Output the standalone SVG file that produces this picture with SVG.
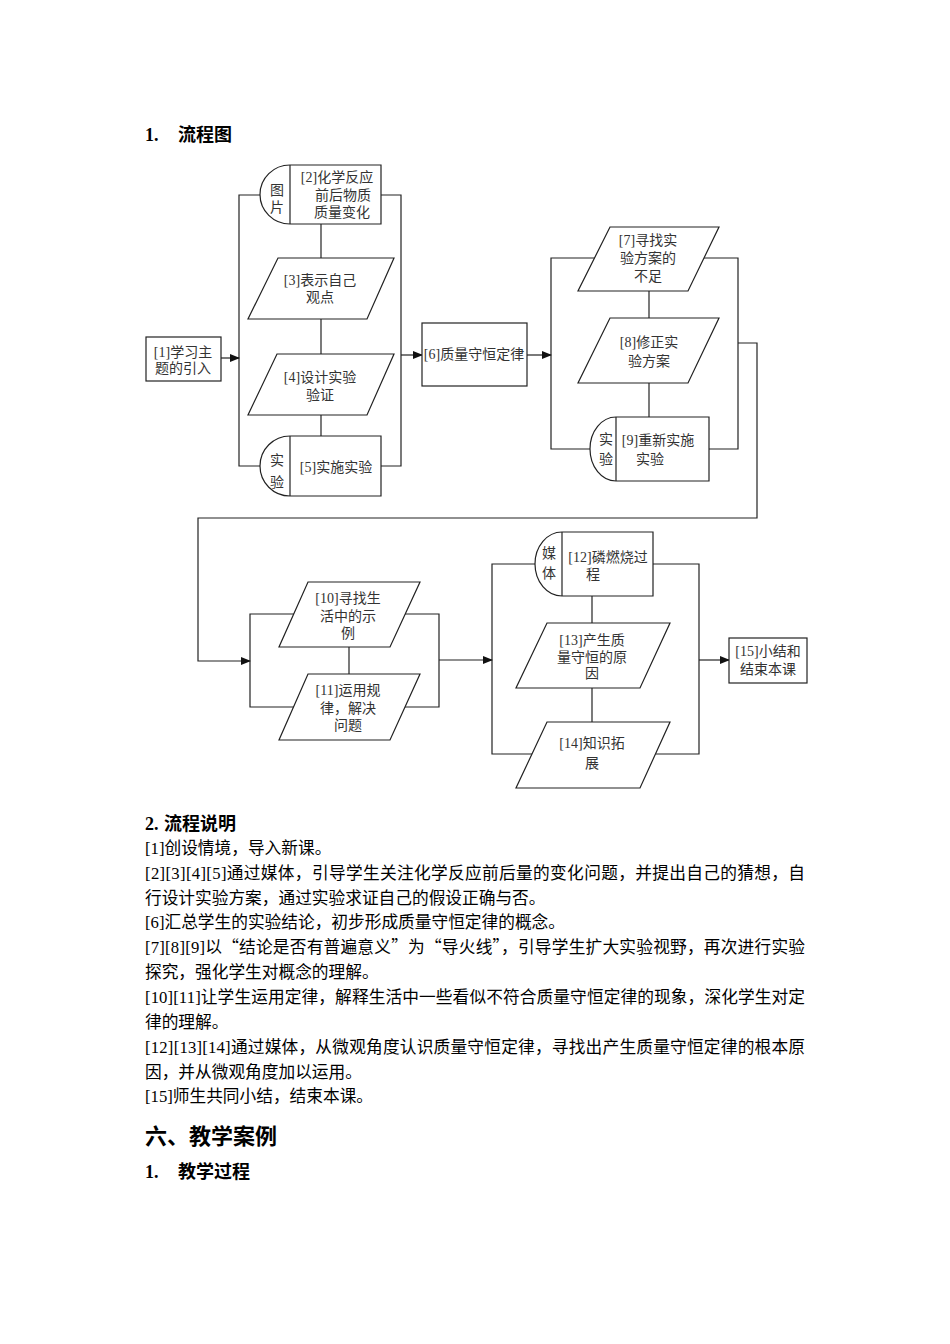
<svg xmlns="http://www.w3.org/2000/svg" width="950" height="1344" viewBox="0 0 950 1344">
<defs>
<style>
.shape{fill:#fff;stroke:#222;stroke-width:1.2}
.ln{fill:none;stroke:#222;stroke-width:1.2}
.ft{font-family:"Liberation Serif","Noto Sans CJK SC",serif;font-size:14px;fill:#333;text-anchor:middle}
.body{font-family:"Liberation Serif","Noto Sans CJK SC",serif;font-size:16.7px;fill:#000}
.cjk{font-family:"Noto Sans CJK SC",sans-serif}
.h{font-family:"Liberation Serif","Noto Sans CJK SC",serif;font-weight:bold;fill:#000}
</style>
<marker id="arr" markerWidth="10" markerHeight="8" refX="9" refY="4" orient="auto" markerUnits="userSpaceOnUse">
<path d="M0,0 L10,4 L0,8 Z" fill="#111"/>
</marker>
</defs>
<rect width="950" height="1344" fill="#fff"/>

<text class="h" x="145" y="141" font-size="18">1.</text>
<text class="h" x="178" y="141" font-size="18">流程图</text>

<g id="connectors">
<polyline class="ln" points="260,195 239,195 239,466 260,466"/>
<polyline class="ln" points="381,195 401,195 401,466 381,466"/>
<line class="ln" x1="321" y1="224" x2="321" y2="258"/>
<line class="ln" x1="321" y1="319" x2="321" y2="354"/>
<line class="ln" x1="321" y1="415" x2="321" y2="436"/>
<line class="ln" x1="221" y1="358" x2="239" y2="358" marker-end="url(#arr)"/>
<line class="ln" x1="401" y1="355" x2="422" y2="355" marker-end="url(#arr)"/>
<line class="ln" x1="527" y1="355" x2="551" y2="355" marker-end="url(#arr)"/>
<polyline class="ln" points="595,258 551,258 551,449 590,449"/>
<polyline class="ln" points="704,258 738,258 738,449 709,449"/>
<line class="ln" x1="649" y1="291" x2="649" y2="318"/>
<line class="ln" x1="649" y1="383" x2="649" y2="417"/>
<polyline class="ln" points="738,343 757,343 757,518 198,518 198,661 250,661" marker-end="url(#arr)"/>
<polyline class="ln" points="294,614 250,614 250,707 294,707"/>
<polyline class="ln" points="405,614 439,614 439,707 405,707"/>
<line class="ln" x1="349" y1="647" x2="349" y2="674"/>
<line class="ln" x1="439" y1="660" x2="492" y2="660" marker-end="url(#arr)"/>
<polyline class="ln" points="535,564 492,564 492,754 532,754"/>
<polyline class="ln" points="653,564 699,564 699,754 656,754"/>
<line class="ln" x1="592" y1="596" x2="592" y2="623"/>
<line class="ln" x1="592" y1="688" x2="592" y2="722"/>
<line class="ln" x1="699" y1="660" x2="729" y2="660" marker-end="url(#arr)"/>
</g>

<g id="node1">
<rect class="shape" x="146" y="337" width="75" height="44"/>
<text class="ft" x="183" y="357">[1]学习主</text>
<text class="ft" x="183" y="373">题的引入</text>
</g>

<g id="node2">
<path class="shape" d="M290,165 H381 V224 H290 A30,29.5 0 0 1 290,165 Z"/>
<line class="ln" x1="290" y1="165" x2="290" y2="224"/>
<text class="ft" x="277" y="195">图</text>
<text class="ft" x="277" y="212">片</text>
<text class="ft" x="337" y="182">[2]化学反应</text>
<text class="ft" x="343" y="200">前后物质</text>
<text class="ft" x="342" y="217">质量变化</text>
</g>

<g id="node3">
<polygon class="shape" points="278,258 394,258 367,319 248,319"/>
<text class="ft" x="320" y="285">[3]表示自己</text>
<text class="ft" x="320" y="302">观点</text>
</g>

<g id="node4">
<polygon class="shape" points="277,354 394,354 367,415 248,415"/>
<text class="ft" x="320" y="382">[4]设计实验</text>
<text class="ft" x="320" y="400">验证</text>
</g>

<g id="node5">
<path class="shape" d="M290,436 H381 V496 H290 A30,30 0 0 1 290,436 Z"/>
<line class="ln" x1="290" y1="436" x2="290" y2="496"/>
<text class="ft" x="277" y="465">实</text>
<text class="ft" x="277" y="487">验</text>
<text class="ft" x="336" y="472">[5]实施实验</text>
</g>

<g id="node6">
<rect class="shape" x="422" y="323" width="105" height="63"/>
<text class="ft" x="474" y="359">[6]质量守恒定律</text>
</g>

<g id="node7">
<polygon class="shape" points="610,227 719,227 688,291 578,291"/>
<text class="ft" x="648" y="245">[7]寻找实</text>
<text class="ft" x="648" y="263">验方案的</text>
<text class="ft" x="648" y="281">不足</text>
</g>

<g id="node8">
<polygon class="shape" points="610,318 719,318 688,383 578,383"/>
<text class="ft" x="649" y="347">[8]修正实</text>
<text class="ft" x="649" y="366">验方案</text>
</g>

<g id="node9">
<path class="shape" d="M616,417 H709 V481 H616 A26,32 0 0 1 616,417 Z"/>
<line class="ln" x1="616" y1="417" x2="616" y2="481"/>
<text class="ft" x="606" y="444">实</text>
<text class="ft" x="606" y="464">验</text>
<text class="ft" x="658" y="445">[9]重新实施</text>
<text class="ft" x="650" y="464">实验</text>
</g>

<g id="node10">
<polygon class="shape" points="308,582 420,582 390,647 279,647"/>
<text class="ft" x="348" y="603">[10]寻找生</text>
<text class="ft" x="348" y="621">活中的示</text>
<text class="ft" x="348" y="638">例</text>
</g>

<g id="node11">
<polygon class="shape" points="308,674 420,674 390,740 279,740"/>
<text class="ft" x="348" y="695">[11]运用规</text>
<text class="ft" x="348" y="713">律，解决</text>
<text class="ft" x="348" y="730">问题</text>
</g>

<g id="node12">
<path class="shape" d="M562,532 H653 V596 H562 A27,32 0 0 1 562,532 Z"/>
<line class="ln" x1="562" y1="532" x2="562" y2="596"/>
<text class="ft" x="549" y="558">媒</text>
<text class="ft" x="549" y="578">体</text>
<text class="ft" x="608" y="562">[12]磷燃烧过</text>
<text class="ft" x="593" y="579">程</text>
</g>

<g id="node13">
<polygon class="shape" points="547,623 670,623 640,688 516,688"/>
<text class="ft" x="592" y="645">[13]产生质</text>
<text class="ft" x="592" y="662">量守恒的原</text>
<text class="ft" x="592" y="678">因</text>
</g>

<g id="node14">
<polygon class="shape" points="547,722 670,722 640,788 516,788"/>
<text class="ft" x="592" y="748">[14]知识拓</text>
<text class="ft" x="592" y="768">展</text>
</g>

<g id="node15">
<rect class="shape" x="729" y="638" width="78" height="45"/>
<text class="ft" x="768" y="656">[15]小结和</text>
<text class="ft" x="768" y="674">结束本课</text>
</g>

<text class="h" x="145" y="830" font-size="18">2.</text>
<text class="h" x="164" y="830" font-size="18">流程说明</text>

<text class="body" x="145" y="854">[1]创设情境，导入新课。</text>
<text class="body" x="145" y="879" textLength="660" lengthAdjust="spacing">[2][3][4][5]通过媒体，引导学生关注化学反应前后量的变化问题，并提出自己的猜想，自</text>
<text class="body" x="145" y="904">行设计实验方案，通过实验求证自己的假设正确与否。</text>
<text class="body" x="145" y="928">[6]汇总学生的实验结论，初步形成质量守恒定律的概念。</text>
<text class="body" x="145" y="953" textLength="660" lengthAdjust="spacing">[7][8][9]以<tspan class="cjk">“</tspan>结论是否有普遍意义<tspan class="cjk">”</tspan>为<tspan class="cjk">“</tspan>导火线<tspan class="cjk">”</tspan>，引导学生扩大实验视野，再次进行实验</text>
<text class="body" x="145" y="978">探究，强化学生对概念的理解。</text>
<text class="body" x="145" y="1003" textLength="660" lengthAdjust="spacing">[10][11]让学生运用定律，解释生活中一些看似不符合质量守恒定律的现象，深化学生对定</text>
<text class="body" x="145" y="1028">律的理解。</text>
<text class="body" x="145" y="1053" textLength="660" lengthAdjust="spacing">[12][13][14]通过媒体，从微观角度认识质量守恒定律，寻找出产生质量守恒定律的根本原</text>
<text class="body" x="145" y="1078">因，并从微观角度加以运用。</text>
<text class="body" x="145" y="1102">[15]师生共同小结，结束本课。</text>

<text class="h" x="145" y="1144" font-size="22">六、教学案例</text>
<text class="h" x="145" y="1178" font-size="18">1.</text>
<text class="h" x="178" y="1178" font-size="18">教学过程</text>
</svg>
